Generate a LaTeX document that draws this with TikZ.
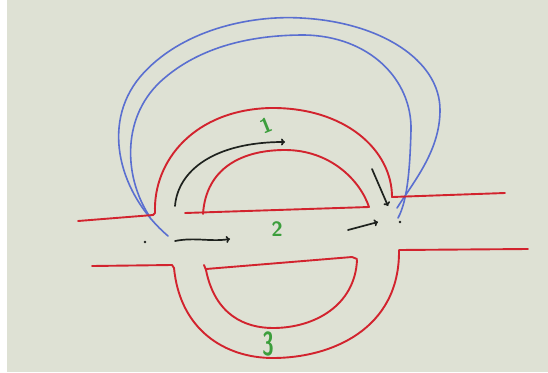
\documentclass[tikz,border=0pt]{standalone}
\usetikzlibrary{arrows.meta}
\definecolor{bg}{HTML}{DEE1D4}
\definecolor{redink}{HTML}{D2232E}
\definecolor{blueink}{HTML}{5A6FD0}
\definecolor{greenink}{HTML}{3C9E3C}
\definecolor{blackink}{HTML}{1E221E}
\tikzset{
  redline/.style={draw=redink,line width=1.9pt,line cap=round,line join=round},
  blueline/.style={draw=blueink,line width=1.6pt,line cap=round,line join=round},
  blackarrow/.style={draw=blackink,line width=1.7pt,line cap=round,-{To[length=4pt,width=7pt]}},
  lab/.style={text=greenink,font=\sffamily\bfseries\huge,inner sep=0pt},
  dotmark/.style={circle,fill=blackink,inner sep=0pt,minimum size=2.8pt}
}
\begin{document}
\begin{tikzpicture}[x=1pt,y=-1pt]
\useasboundingbox (0,0) rectangle (548,372);
\fill[white] (0,0) rectangle (548,372);
\fill[bg] (7,0) rectangle (548,372);
% blue curves
\draw[blueline] (168,236) .. controls (120,195) and (100,125) .. (140,77)
  .. controls (180,30) and (250,15) .. (301,18)
  .. controls (380,22) and (440,60) .. (440,110)
  .. controls (440,150) and (415,180) .. (397,208);
\draw[blueline] (150,217) .. controls (125,180) and (120,120) .. (160,82)
  .. controls (200,45) and (255,35) .. (304,35)
  .. controls (370,36) and (412,80) .. (411,130)
  .. controls (410,165) and (408,200) .. (398,218);
% red upper outer
\draw[redline] (78,221) -- (153,215) -- (155,213)
  .. controls (153,160) and (195,110) .. (270,108)
  .. controls (345,107) and (392,150) .. (392,197) -- (505,193);
% red upper inner
\draw[redline] (185,213) -- (369,207);
\draw[redline] (203,214) .. controls (206,168) and (242,150) .. (285,150)
  .. controls (330,150) and (360,180) .. (369,207);
% red lower outer
\draw[redline] (92,266) -- (172,265) -- (174,268)
  .. controls (180,330) and (225,358) .. (273,358)
  .. controls (330,358) and (400,330) .. (399,250) -- (528,249);
% red lower inner
\draw[redline] (206,269) -- (352,257) -- (357,259);
\draw[redline] (204,265) -- (206,270) .. controls (215,315) and (245,328) .. (273,328)
  .. controls (315,328) and (355,305) .. (357,260);
% dots
\node[dotmark] (dl) at (145,242) {};
\node[dotmark] (dr) at (400,222) {};
% black arrows
\coordinate (a1s) at (175,206);
\coordinate (a1e) at (285,142);
\draw[blackarrow] (a1s) .. controls (178,170) and (215,142) .. (a1e);
\coordinate (a2s) at (175,241);
\coordinate (a2e) at (230,239);
\draw[blackarrow] (a2s) .. controls (195,237) and (210,242) .. (a2e);
\coordinate (a3s) at (348,230);
\coordinate (a3e) at (378,222);
\draw[blackarrow] (a3s) -- (a3e);
\coordinate (a4s) at (372,169);
\coordinate (a4e) at (388,206);
\draw[blackarrow] (a4s) -- (a4e);
% labels
\node[lab,rotate=22] (l1) at (266,125) {1};
\node[lab] (l2) at (277,229) {2};
\node[lab,yscale=1.6] (l3) at (268,344) {3};
\end{tikzpicture}
\end{document}
